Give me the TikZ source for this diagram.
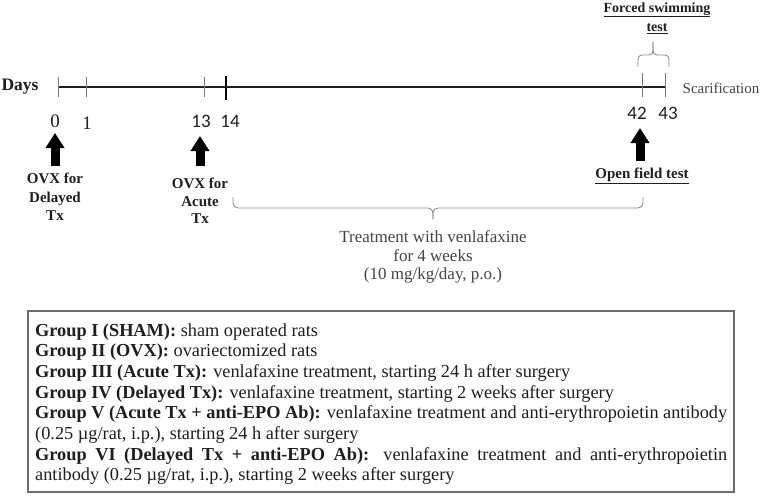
\documentclass[tikz,border=0pt]{standalone}
\usepackage{fontspec}
\setmainfont{Liberation Serif}
\newfontfamily\numfont{Carlito}
\usetikzlibrary{arrows.meta}
\definecolor{ink}{HTML}{1E1E1E}
\definecolor{soft}{HTML}{444444}
\definecolor{tickgray}{HTML}{7A7A7A}
\definecolor{bracegray}{HTML}{8A8A8A}
\begin{document}
\begin{tikzpicture}[x=1pt,y=-1pt,
  lbl/.style={font=\fontsize{15}{18.5}\selectfont\bfseries, align=center, inner sep=0pt, text=ink},
  serifnum/.style={font=\fontsize{19}{20}\selectfont, inner sep=0pt, text=ink},
  sansnum/.style={font=\numfont\fontsize{19}{20}\selectfont, inner sep=0pt, text=ink},
  tickmark/.style={draw=tickgray, line width=0.9pt},
  bigarrow/.style={draw=black, line width=9pt, -{Triangle[width=18pt,length=15pt]}},
  bracestyle/.style={draw=bracegray, line width=0.9pt, rounded corners=4pt},
]
\useasboundingbox (0,0) rectangle (762,503);

% timeline
\coordinate (t0) at (58,87);
\coordinate (t1) at (86,87);
\coordinate (t13) at (204,87);
\coordinate (t14) at (226,87);
\coordinate (t42) at (642,87);
\coordinate (t43) at (665,87);
\draw[ink, line width=1.6pt] (t0) -- (t43);
\draw[tickmark] (58,77) -- (58,97);
\draw[tickmark] (86,77) -- (86,97);
\draw[tickmark] (204,77) -- (204,97);
\draw[draw=black, line width=1.1pt] (226,76) -- (226,100);
\draw[tickmark] (642,73) -- (642,97);
\draw[tickmark] (665,73) -- (665,97);

\node[font=\fontsize{17.5}{20}\selectfont\bfseries, inner sep=0pt, text=ink] (days) at (20,87) {Days};
\node[font=\fontsize{15}{18}\selectfont, inner sep=0pt, text=soft] (scar) at (721,88) {Scarification};

% day numbers
\node[serifnum] (n0) at (55,121) {0};
\node[serifnum] (n1) at (87,123) {1};
\node[sansnum] (n13) at (201,121) {13};
\node[sansnum] (n14) at (230,121) {14};
\node[sansnum] (n42) at (637,113) {42};
\node[sansnum] (n43) at (668,113) {43};

% labels
\node[lbl] (ovxd) at (55,197) {OVX for\\Delayed\\Tx};
\node[lbl, font=\fontsize{15}{17.5}\selectfont\bfseries] (ovxa) at (200,201) {OVX for\\Acute\\Tx};
\node[lbl] (oft) at (642,176) {\underline{Open field test}};
\node[lbl, font=\fontsize{14}{19.5}\selectfont\bfseries] (fst) at (657,18) {\underline{Forced swimming}\\\underline{test}};

% block arrows
\coordinate (a0s) at (55,166);  \coordinate (a0e) at (55,133);
\coordinate (a13s) at (200,166); \coordinate (a13e) at (200,136);
\coordinate (a42s) at (640,161); \coordinate (a42e) at (640,128);
\draw[bigarrow] (a0s) -- (a0e);
\draw[bigarrow] (a13s) -- (a13e);
\draw[bigarrow] (a42s) -- (a42e);

% braces
\draw[bracestyle] (638,67) |- (653,55) -- (653,42);
\draw[bracestyle] (669,67) |- (653,55) -- (653,42);
\draw[bracestyle, rounded corners=5pt] (233,197) |- (433,208) -- (433,219);
\draw[bracestyle, rounded corners=5pt] (643,197) |- (433,208) -- (433,219);

\node[font=\fontsize{17}{18.5}\selectfont, align=center, inner sep=0pt, text=soft] (treat) at (433,257)
  {Treatment with venlafaxine\\for 4 weeks\\(10 mg/kg/day, p.o.)};

% groups box
\draw[draw=gray!85!black, line width=1.6pt] (28,311) rectangle (734,492);
\node[anchor=base west, inner sep=0pt, text=ink] (groups) at (35,336) {\parbox[t]{692pt}{\fontsize{18.3}{20.7}\selectfont
\textbf{Group I (SHAM):} sham operated rats\par
\textbf{Group II (OVX):} ovariectomized rats\par
\textbf{Group III (Acute Tx):} venlafaxine treatment, starting 24 h after surgery\par
\textbf{Group IV (Delayed Tx):} venlafaxine treatment, starting 2 weeks after surgery\par
\textbf{Group V (Acute Tx + anti-EPO Ab):} venlafaxine treatment and anti-erythropoietin antibody\linebreak (0.25 µg/rat, i.p.), starting 24 h after surgery\par
\textbf{Group VI (Delayed Tx + anti-EPO Ab):} venlafaxine treatment and anti-erythropoietin\linebreak antibody (0.25 µg/rat, i.p.), starting 2 weeks after surgery\par}};
\end{tikzpicture}
\end{document}
